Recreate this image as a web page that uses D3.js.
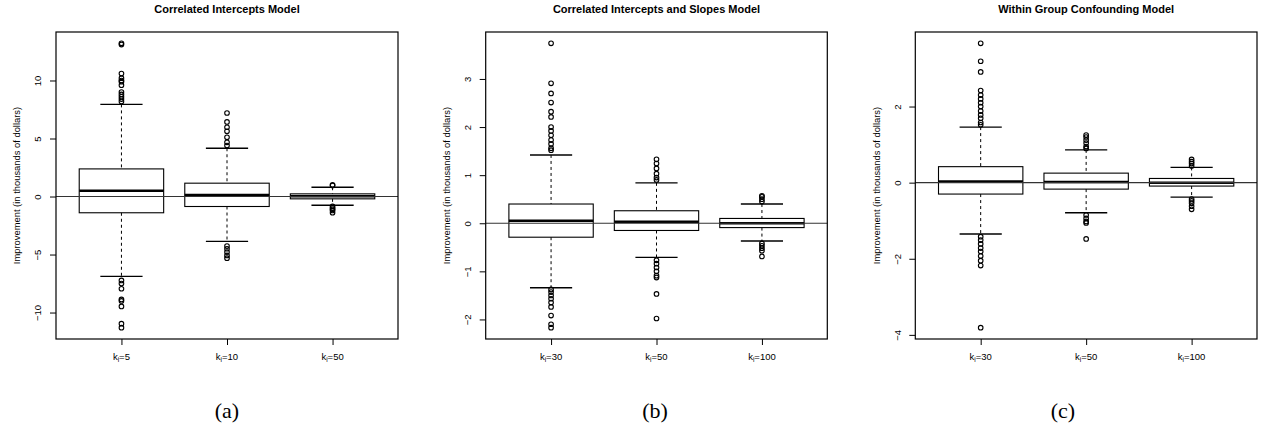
<!DOCTYPE html>
<html>
<head>
<meta charset="utf-8">
<script src="https://cdn.jsdelivr.net/npm/d3@7"></script>
<style>
  body { margin: 0; background: #fff; }
  svg { display: block; font-family: "Liberation Sans", Arial, sans-serif; }
</style>
</head>
<body>
<div id="chart"></div>
<script>
// ---- data (thousands of dollars) ----
var titles = ["Correlated Intercepts Model", "Correlated Intercepts and Slopes Model", "Within Group Confounding Model"];
var panelTags = ["(a)", "(b)", "(c)"];

var kA = ["5", "10", "50"];
var kB = ["30", "50", "100"];
var kC = ["30", "50", "100"];

var ticksA = [-10, -5, 0, 5, 10];
var ticksB = [-2, -1, 0, 1, 2, 3];
var ticksC = [-4, -2, 0, 2];

// whisker low, Q1, median, Q3, whisker high
var loA = [-6.88, -3.87, -0.75], q1A = [-1.40, -0.86, -0.20], medA = [0.49, 0.14, 0.02], q3A = [2.38, 1.15, 0.23], hiA = [7.94, 4.16, 0.80];
var loB = [-1.34, -0.71, -0.37], q1B = [-0.29, -0.15, -0.09], medB = [0.05, 0.03, 0.00], q3B = [0.40, 0.26, 0.10], hiB = [1.42, 0.84, 0.40];
var loC = [-1.35, -0.79, -0.38], q1C = [-0.30, -0.17, -0.09], medC = [0.03, 0.02, 0.00], q3C = [0.42, 0.25, 0.11], hiC = [1.46, 0.86, 0.40];

var outA = [
  [13.1, 13.2, 10.6, 10.2, 10.0, 9.9, 9.6, 9.0, 8.8, 8.6, 8.4, 8.2, -7.23, -7.5, -7.95, -8.87, -9.0, -9.47, -10.96, -11.3],
  [7.2, 6.43, 5.97, 5.62, 5.1, 4.67, 4.39, -4.27, -4.5, -4.79, -5.08, -5.31],
  [0.95, 1.0, -0.85, -1.0, -1.1, -1.2, -1.4]
];
var outB = [
  [3.74, 2.91, 2.70, 2.51, 2.32, 2.21, 2.0, 1.92, 1.83, 1.73, 1.65, 1.56, 1.52, -1.375, -1.43, -1.5, -1.57, -1.65, -1.74, -1.92, -2.10, -2.17],
  [1.33, 1.24, 1.14, 1.03, 0.95, 0.90, -0.77, -0.84, -0.92, -1.0, -1.09, -1.13, -1.47, -1.98],
  [0.45, 0.5, 0.55, 0.57, -0.42, -0.47, -0.52, -0.57, -0.69]
];
var outC = [
  [3.66, 3.19, 2.91, 2.42, 2.30, 2.20, 2.10, 2.0, 1.88, 1.78, 1.69, 1.58, 1.52, -1.42, -1.51, -1.61, -1.72, -1.81, -1.93, -2.05, -2.18, -3.81],
  [1.25, 1.2, 1.12, 1.04, 0.95, 0.9, -0.85, -0.94, -1.02, -1.06, -1.48],
  [0.61, 0.55, 0.5, 0.44, -0.43, -0.48, -0.54, -0.62, -0.70]
];

var panels = [
  {k: kA, ticks: ticksA, lo: loA, q1: q1A, med: medA, q3: q3A, hi: hiA, out: outA, left: 56,    right: 398},
  {k: kB, ticks: ticksB, lo: loB, q1: q1B, med: medB, q3: q3B, hi: hiB, out: outB, left: 485.7, right: 827.3},
  {k: kC, ticks: ticksC, lo: loC, q1: q1C, med: medC, q3: q3C, hi: hiC, out: outC, left: 915.3, right: 1257}
];

var width = 1262, height = 438;
var plotTop = 32, plotBottom = 339;

var svg = d3.select("#chart").append("svg")
    .attr("width", width)
    .attr("height", height);

svg.append("rect").attr("width", width).attr("height", height).attr("fill", "#fff");

panels.forEach(function (p, pi) {
    var n = p.k.length;
    // R style: data range padded 4% on each side
    var all = d3.merge(p.out).concat(p.lo, p.hi);
    var ext = d3.extent(all), pad = (ext[1] - ext[0]) * 0.04;
    var y = d3.scaleLinear().domain([ext[0] - pad, ext[1] + pad]).range([plotBottom, plotTop]);
    var xpad = n * 0.04;
    var x = d3.scaleLinear().domain([0.5 - xpad, n + 0.5 + xpad]).range([p.left, p.right]);
    var unit = x(2) - x(1);
    var bw = unit * 0.4, cw = bw / 2;

    var g = svg.append("g");

    // title
    g.append("text")
        .attr("x", (p.left + p.right) / 2)
        .attr("y", 13)
        .attr("text-anchor", "middle")
        .attr("font-weight", "bold")
        .attr("font-size", 11)
        .text(titles[pi]);

    // y axis
    var ya = g.append("g").attr("transform", "translate(" + p.left + ",0)")
        .call(d3.axisLeft(y).tickValues(p.ticks).tickSize(6).tickPadding(0));
    ya.select(".domain").remove();
    ya.selectAll("line").attr("stroke", "#000");
    ya.selectAll("text")
        .attr("x", null)
        .attr("transform", "translate(-18,0) rotate(-90)")
        .attr("text-anchor", "middle")
        .attr("dy", "0.35em")
        .attr("font-size", 9.5)
        .attr("font-family", null)
        .attr("fill", "#000")
        .text(function (d) { return d < 0 ? "\u2212" + Math.abs(d) : d; });

    // x axis
    var xa = g.append("g").attr("transform", "translate(0," + plotBottom + ")")
        .call(d3.axisBottom(x).tickValues(d3.range(1, n + 1)).tickSize(6).tickFormat(""));
    xa.select(".domain").remove();
    xa.selectAll("line").attr("stroke", "#000");
    p.k.forEach(function (kv, i) {
        var t = g.append("text")
            .attr("x", x(i + 1))
            .attr("y", 360)
            .attr("text-anchor", "middle")
            .attr("font-size", 9.5);
        t.append("tspan").text("k");
        t.append("tspan").attr("font-size", 6.5).attr("dy", 2).text("i");
        t.append("tspan").attr("dy", -2).text("=" + kv);
    });

    // y label
    g.append("text")
        .attr("transform", "translate(" + (p.left - 39) + "," + ((plotTop + plotBottom) / 2) + ") rotate(-90)")
        .attr("text-anchor", "middle")
        .attr("dy", "0.35em")
        .attr("font-size", 9.4)
        .text("Improvement (in thousands of dollars)");

    // boxes
    d3.range(n).forEach(function (i) {
        var cx = x(i + 1);
        var b = g.append("g");
        // whiskers
        b.append("line").attr("x1", cx).attr("x2", cx).attr("y1", y(p.hi[i])).attr("y2", y(p.q3[i]))
            .attr("stroke", "#000").attr("stroke-dasharray", "3,3");
        b.append("line").attr("x1", cx).attr("x2", cx).attr("y1", y(p.q1[i])).attr("y2", y(p.lo[i]))
            .attr("stroke", "#000").attr("stroke-dasharray", "3,3");
        // staples
        [p.hi[i], p.lo[i]].forEach(function (v) {
            b.append("line").attr("x1", cx - cw).attr("x2", cx + cw).attr("y1", y(v)).attr("y2", y(v))
                .attr("stroke", "#000").attr("stroke-width", 1.4);
        });
        // box
        b.append("rect")
            .attr("x", cx - bw).attr("width", 2 * bw)
            .attr("y", y(p.q3[i])).attr("height", y(p.q1[i]) - y(p.q3[i]))
            .attr("fill", "none").attr("stroke", "#000").attr("stroke-width", 1.1);
        // median
        b.append("line").attr("x1", cx - bw).attr("x2", cx + bw).attr("y1", y(p.med[i])).attr("y2", y(p.med[i]))
            .attr("stroke", "#000").attr("stroke-width", 2.5);
        // outliers
        b.selectAll("circle").data(p.out[i]).enter().append("circle")
            .attr("cx", cx).attr("cy", function (d) { return y(d); })
            .attr("r", 2.3)
            .attr("fill", "none").attr("stroke", "#000").attr("stroke-width", 1.1);
    });

    // zero line
    g.append("line").attr("x1", p.left).attr("x2", p.right).attr("y1", y(0)).attr("y2", y(0))
        .attr("stroke", "#333").attr("stroke-width", 1.1);

    // plot frame
    g.append("rect").attr("x", p.left).attr("y", plotTop)
        .attr("width", p.right - p.left).attr("height", plotBottom - plotTop)
        .attr("fill", "none").attr("stroke", "#000").attr("stroke-width", 1.2);

    // panel tag
    svg.append("text")
        .attr("x", [227, 655, 1063][pi])
        .attr("y", 418)
        .attr("text-anchor", "middle")
        .style("font-family", "'Liberation Serif', 'DejaVu Serif', serif")
        .attr("font-size", 22)
        .text(panelTags[pi]);
});
</script>
</body>
</html>
